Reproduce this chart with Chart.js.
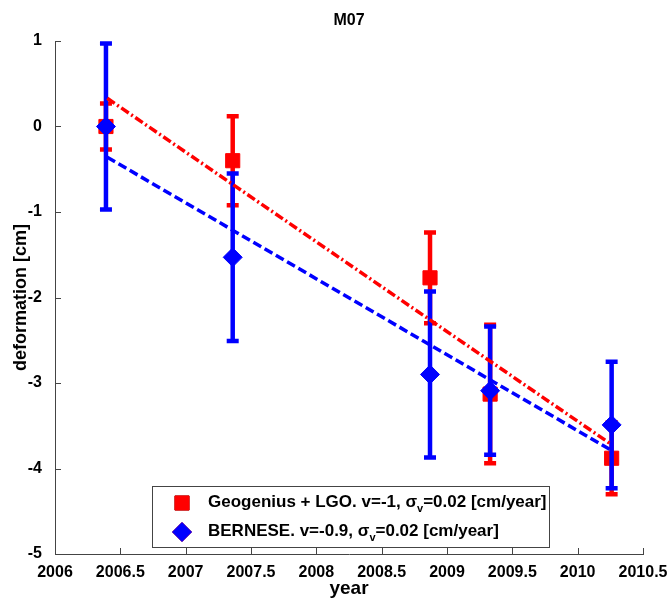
<!DOCTYPE html>
<html>
<head>
<meta charset="utf-8">
<script src="https://cdn.jsdelivr.net/npm/chart.js@4.4.1/dist/chart.umd.min.js"></script>
<style>
  html, body { margin: 0; padding: 0; background: #fff; }
  #wrap { width: 670px; height: 599px; }
</style>
</head>
<body>
<div id="wrap"><canvas id="m07_chart" width="670" height="599"></canvas></div>
<script>
// epochs of the campaigns (decimal year)
var years = [2006.39, 2007.36, 2008.87, 2009.33, 2010.26];

// Geogenius + LGO solution
var geoValues = [0, -0.40, -1.77, -3.13, -3.88];
var geoErrors = [0.27, 0.52, 0.53, 0.81, 0.42];

// BERNESE solution
var bernValues = [0, -1.53, -2.90, -3.09, -3.49];
var bernErrors = [0.97, 0.98, 0.97, 0.75, 0.74];

// fitted velocity lines (start / end)
var trendYears = [2006.40, 2010.25];
var geoTrend = [0.33, -3.71];
var bernTrend = [-0.36, -3.78];

var xTicks = [2006, 2006.5, 2007, 2007.5, 2008, 2008.5, 2009, 2009.5, 2010, 2010.5];
var yTicks = [-5, -4, -3, -2, -1, 0, 1];

var legendLabels = [
  ['Geogenius + LGO. v=-1, ', '=0.02 [cm/year]'],
  ['BERNESE. v=-0.9, ', '=0.02 [cm/year]']
];

function toPoints(xs, ys) {
  var pts = [];
  xs.forEach(function (x, i) { pts.push({ x: x, y: ys[i] }); });
  return pts;
}

var FONT = '"Liberation Sans", Arial, sans-serif';

// error bars, drawn just before the points of their dataset
var errorBars = {
  id: 'errorBars',
  beforeDatasetDraw: function (chart, args) {
    var ds = chart.data.datasets[args.index];
    if (!ds.errors) return;
    var ctx = chart.ctx;
    var yScale = chart.scales.y;
    ctx.save();
    ctx.strokeStyle = ds.borderColor;
    ctx.lineWidth = 4.5;
    args.meta.data.forEach(function (pt, i) {
      var v = ds.data[i].y, e = ds.errors[i];
      var top = yScale.getPixelForValue(v + e);
      var bot = yScale.getPixelForValue(v - e);
      ctx.beginPath();
      ctx.moveTo(pt.x, top);
      ctx.lineTo(pt.x, bot);
      ctx.moveTo(pt.x - 6, top);
      ctx.lineTo(pt.x + 6, top);
      ctx.moveTo(pt.x - 6, bot);
      ctx.lineTo(pt.x + 6, bot);
      ctx.stroke();
    });
    ctx.restore();
  }
};

// matlab style decorations: inward ticks, titles, legend box
var decorations = {
  id: 'decorations',
  afterDraw: function (chart) {
    var ctx = chart.ctx;
    var a = chart.chartArea;
    var xs = chart.scales.x, ys = chart.scales.y;
    ctx.save();
    ctx.strokeStyle = '#444';
    ctx.lineWidth = 1;
    ctx.beginPath();
    xTicks.forEach(function (t) {
      var px = Math.round(xs.getPixelForValue(t)) + 0.5;
      ctx.moveTo(px, a.bottom);
      ctx.lineTo(px, a.bottom - 6);
    });
    yTicks.forEach(function (t) {
      var py = Math.round(ys.getPixelForValue(t)) + 0.5;
      ctx.moveTo(a.left, py);
      ctx.lineTo(a.left + 6, py);
    });
    ctx.stroke();

    ctx.fillStyle = '#000';
    ctx.textAlign = 'center';
    ctx.textBaseline = 'middle';
    ctx.font = 'bold 16px ' + FONT;
    ctx.fillText('M07', (a.left + a.right) / 2, 21);
    ctx.save();
    ctx.translate(21, (a.top + a.bottom) / 2);
    ctx.rotate(-Math.PI / 2);
    ctx.font = 'bold 18px ' + FONT;
    ctx.fillText('deformation [cm]', 0, 0);
    ctx.restore();
    ctx.textBaseline = 'alphabetic';
    ctx.font = 'bold 19px ' + FONT;
    ctx.fillText('year', (a.left + a.right) / 2, 594);

    // legend
    var bx = 152, by = 486, bw = 397, bh = 61;
    ctx.fillStyle = '#fff';
    ctx.fillRect(bx, by, bw, bh);
    ctx.strokeStyle = '#444';
    ctx.strokeRect(bx + 0.5, by + 0.5, bw, bh);
    var rows = [by + 17, by + 46];
    chart.data.datasets.slice(0, 2).forEach(function (ds, i) {
      Chart.helpers.drawPoint(ctx, {
        pointStyle: ds.pointStyle, radius: ds.pointRadius, borderWidth: 1
      }, 182, rows[i]);
      ctx.fillStyle = ds.backgroundColor;
      ctx.strokeStyle = ds.borderColor;
      ctx.fill();
      ctx.stroke();
    });
    ctx.fillStyle = '#000';
    ctx.textAlign = 'left';
    ctx.textBaseline = 'middle';
    legendLabels.forEach(function (lab, i) {
      var x = 208, y = rows[i] - 1;
      ctx.font = 'bold 17px ' + FONT;
      ctx.fillText(lab[0], x, y);
      x += ctx.measureText(lab[0]).width;
      ctx.fillText('\u03c3', x, y);
      x += ctx.measureText('\u03c3').width;
      ctx.font = 'bold 11px ' + FONT;
      ctx.fillText('v', x, y + 7);
      x += ctx.measureText('v').width;
      ctx.font = 'bold 17px ' + FONT;
      ctx.fillText(lab[1], x, y);
    });
    ctx.restore();
  }
};

var ctx = document.getElementById('m07_chart').getContext('2d');
var chart = new Chart(ctx, {
  type: 'scatter',
  data: {
    datasets: [{
      label: 'Geogenius + LGO',
      data: toPoints(years, geoValues),
      errors: geoErrors,
      pointStyle: 'rect',
      pointRadius: 10,
      backgroundColor: '#ff0000',
      borderColor: '#ff0000',
      borderWidth: 1,
      order: 3
    }, {
      label: 'BERNESE',
      data: toPoints(years, bernValues),
      errors: bernErrors,
      pointStyle: 'rectRot',
      pointRadius: 9.5,
      backgroundColor: '#0000ff',
      borderColor: '#0000ff',
      borderWidth: 1,
      order: 2
    }, {
      type: 'line',
      label: 'Geogenius trend',
      data: toPoints(trendYears, geoTrend),
      borderColor: '#ff0000',
      borderWidth: 3.5,
      borderDash: [9, 3, 2, 3],
      pointRadius: 0,
      fill: false,
      order: 1
    }, {
      type: 'line',
      label: 'BERNESE trend',
      data: toPoints(trendYears, bernTrend),
      borderColor: '#0000ff',
      borderWidth: 3.5,
      borderDash: [9, 4],
      pointRadius: 0,
      fill: false,
      order: 0
    }]
  },
  options: {
    responsive: false,
    animation: false,
    layout: { padding: { top: 41, right: 27, left: 0, bottom: 0 } },
    plugins: { legend: { display: false }, tooltip: { enabled: false } },
    scales: {
      x: {
        type: 'linear',
        min: 2006, max: 2010.5,
        afterFit: function (s) { s.height = 45; },
        afterBuildTicks: function (s) { s.ticks = xTicks.map(function (v) { return { value: v }; }); },
        grid: { display: false },
        border: { display: true, color: '#444', width: 1 },
        ticks: {
          color: '#000', padding: 1, maxRotation: 0, autoSkip: false,
          font: { family: FONT, size: 16, weight: 'bold' },
          callback: function (v) { return String(v); }
        }
      },
      y: {
        type: 'linear',
        min: -5, max: 1,
        afterFit: function (s) { s.width = 55; },
        afterBuildTicks: function (s) { s.ticks = yTicks.map(function (v) { return { value: v }; }); },
        grid: { display: false },
        border: { display: true, color: '#444', width: 1 },
        ticks: {
          color: '#000', padding: 5,
          font: { family: FONT, size: 16, weight: 'bold' },
          callback: function (v) { return String(v); }
        }
      }
    }
  },
  plugins: [errorBars, decorations]
});
</script>
</body>
</html>
